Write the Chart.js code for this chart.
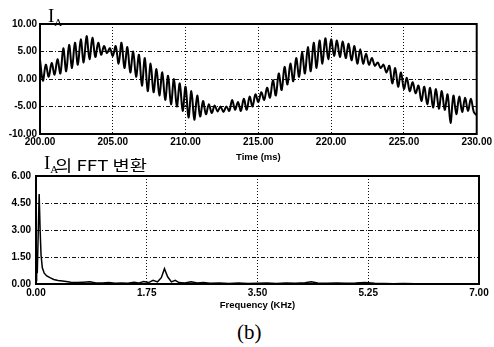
<!DOCTYPE html>
<html>
<head>
<meta charset="utf-8">
<script src="https://cdn.jsdelivr.net/npm/chart.js@4.4.1/dist/chart.umd.min.js"></script>
<style>
  html, body { margin: 0; padding: 0; background: #fff; }
  #wrap { position: relative; width: 494px; height: 347px; overflow: hidden; }
  canvas { position: absolute; left: 0; }
  .lbl { position: absolute; color: #000; white-space: nowrap; line-height: 1; }
  .lbl sub { font-size: 11px; vertical-align: -4px; }
</style>
</head>
<body>
<div id="wrap">
  <canvas id="wave" width="494" height="165" style="top:0"></canvas>
  <canvas id="fft" width="494" height="150" style="top:165px"></canvas>
  <div class="lbl" style="left:48px;top:5px;font:19px 'Liberation Serif'">I<sub>A</sub></div>
  <div class="lbl" style="left:44px;top:152px;font:19px 'Liberation Serif'">I<sub>A</sub></div>
  <div class="lbl" style="left:55px;top:154px;font:15px 'Noto Sans CJK KR';transform:scaleX(1.25);transform-origin:left top">의 FFT 변환</div>
  <div class="lbl" style="left:237px;top:320px;font:21px 'Liberation Serif'">(b)</div>
</div>
<script>
const T0 = 200, DT = 0.2;
const IA = [
  3.5, -0.3, 2.6, 0.4, 2.9, 0.8, 3.6, 1.0, 5.6, 1.4,
  6.2, 2.0, 6.6, 2.6, 7.2, 3.0, 7.8, 3.6, 7.5, 4.0,
  6.6, 4.4, 6.0, 4.7, 5.6, 4.2, 6.0, 2.8, 6.6, 2.0,
  5.8, 1.2, 5.0, 0.4, 4.4, -1.2, 3.8, -2.2, 2.8, -2.4,
  1.8, -3.0, 1.2, -3.8, 0.6, -4.6, 0.0, -5.0, -0.8, -5.8,
  -1.4, -7.0, -2.2, -7.4, -3.0, -6.8, -4.0, -6.4, -4.6, -6.2,
  -4.8, -5.9, -5.0, -6.0, -5.0, -5.8, -3.8, -5.6, -4.2, -5.8,
  -3.6, -5.6, -3.2, -5.0, -2.8, -4.2, -2.4, -3.8, -1.6, -3.4,
  -0.2, -3.0, 1.0, -2.0, 2.2, -1.0, 2.8, -0.4, 3.8, 0.4,
  4.8, 1.0, 5.8, 1.4, 6.6, 2.0, 7.0, 2.8, 7.4, 3.6,
  7.2, 4.2, 7.0, 4.0, 6.8, 3.8, 6.4, 3.4, 6.0, 2.8,
  5.4, 2.8, 4.6, 2.6, 3.8, 2.4, 3.0, 2.0, 2.6, 1.2,
  2.4, -0.8, 2.0, -1.4, 1.2, -1.8, 0.2, -2.2, -0.6, -2.6,
  -1.2, -4.0, -1.4, -4.6, -1.6, -5.2, -1.8, -5.4, -2.2, -5.6,
  -2.8, -8.0, -3.0, -6.4, -3.2, -6.0, -3.4, -5.8, -3.6, -6.0,
  -6.6
];

// FFT magnitude of I_A
const FREQ = [0, 0.01, 0.02, 0.035, 0.05, 0.065, 0.08, 0.10, 0.13, 0.17,
  0.22, 0.28, 0.35, 0.45, 0.55, 0.65, 0.75, 0.85, 0.95, 1.05,
  1.15, 1.25, 1.35, 1.45, 1.55, 1.62, 1.70, 1.78, 1.85, 1.92,
  1.98, 2.03, 2.08, 2.14, 2.20, 2.26, 2.35, 2.45, 2.55, 2.65,
  2.75, 2.9, 3.05, 3.2, 3.35, 3.5, 3.65, 3.8, 3.95, 4.1,
  4.25, 4.35, 4.45, 4.6, 4.75, 4.9, 5.05, 5.2, 5.35, 5.5,
  5.65, 5.8, 6.0, 6.2, 6.4, 6.6, 6.8, 7.0];
const MAG = [0.2, 1.3, 0.6, 2.8, 5.0, 3.0, 1.6, 0.9, 0.6, 0.45,
  0.35, 0.25, 0.2, 0.15, 0.1, 0.08, 0.1, 0.12, 0.06, 0.05,
  0.08, 0.04, 0.05, 0.04, 0.1, 0.05, 0.14, 0.08, 0.2, 0.12,
  0.35, 0.85, 0.4, 0.12, 0.2, 0.08, 0.06, 0.12, 0.05, 0.08,
  0.04, 0.05, 0.03, 0.05, 0.03, 0.04, 0.05, 0.03, 0.06, 0.04,
  0.07, 0.12, 0.05, 0.04, 0.06, 0.04, 0.05, 0.08, 0.04, 0.03,
  0.02, 0.03, 0.02, 0.02, 0.02, 0.01, 0.02, 0.01];

Chart.defaults.font.family = "'Liberation Sans', Arial, sans-serif";
Chart.defaults.font.size = 10;
Chart.defaults.font.weight = 'bold';
Chart.defaults.color = '#000';

// solid box around the plot area
const framePlugin = {
  id: 'frame',
  afterDraw(chart) {
    const { ctx, chartArea: a } = chart;
    ctx.save();
    ctx.strokeStyle = '#000';
    ctx.lineWidth = 2;
    ctx.strokeRect(a.left, a.top, a.right - a.left, a.bottom - a.top);
    ctx.restore();
  }
};

function axes(o) {
  return {
    x: {
      type: 'linear', min: o.xmin, max: o.xmax,
      afterFit: s => { s.height = o.xh; },
      border: { display: false, dash: [1, 2] },
      grid: { color: '#111', lineWidth: 1, drawTicks: false },
      ticks: { stepSize: o.xstep, padding: o.xpad, maxRotation: 0, autoSkip: false,
        callback: v => v.toFixed(2) },
      title: { display: true, text: o.xtitle, font: { size: 9.5, weight: 'bold' },
        padding: { top: 0, bottom: o.tpad } }
    },
    y: {
      min: o.ymin, max: o.ymax,
      afterFit: s => { s.width = o.yw; },
      border: { display: false, dash: [4, 2, 1, 2] },
      grid: { color: '#111', lineWidth: 1, drawTicks: false },
      ticks: { stepSize: o.ystep, padding: o.ypad, callback: v => v.toFixed(2) }
    }
  };
}

new Chart(document.getElementById('wave'), {
  type: 'line',
  data: {
    datasets: [{
      data: IA.map((v, i) => ({ x: T0 + i * DT, y: v })),
      borderColor: '#000', borderWidth: 2, pointRadius: 0, tension: 0.35, fill: false
    }]
  },
  options: {
    responsive: false, animation: false,
    layout: { padding: { top: 24, right: 17, left: 0, bottom: 0 } },
    plugins: { legend: { display: false }, tooltip: { enabled: false } },
    scales: axes({ xmin: 200, xmax: 230, xstep: 5, xh: 31, xpad: 2, xtitle: 'Time (ms)', tpad: 2,
      ymin: -10, ymax: 10, ystep: 5, yw: 40, ypad: 3 })
  },
  plugins: [framePlugin]
});

new Chart(document.getElementById('fft'), {
  type: 'line',
  data: {
    datasets: [{
      data: FREQ.map((f, i) => ({ x: f, y: MAG[i] })),
      borderColor: '#000', borderWidth: 1.5, pointRadius: 0, tension: 0, fill: false
    }]
  },
  options: {
    responsive: false, animation: false,
    layout: { padding: { top: 7, right: 15, left: 0, bottom: 0 } },
    plugins: { legend: { display: false }, tooltip: { enabled: false } },
    scales: axes({ xmin: 0, xmax: 7, xstep: 1.75, xh: 31, xpad: 3, xtitle: 'Frequency (KHz)', tpad: 4,
      ymin: 0, ymax: 6, ystep: 1.5, yw: 36, ypad: 5 })
  },
  plugins: [framePlugin]
});
</script>
</body>
</html>
